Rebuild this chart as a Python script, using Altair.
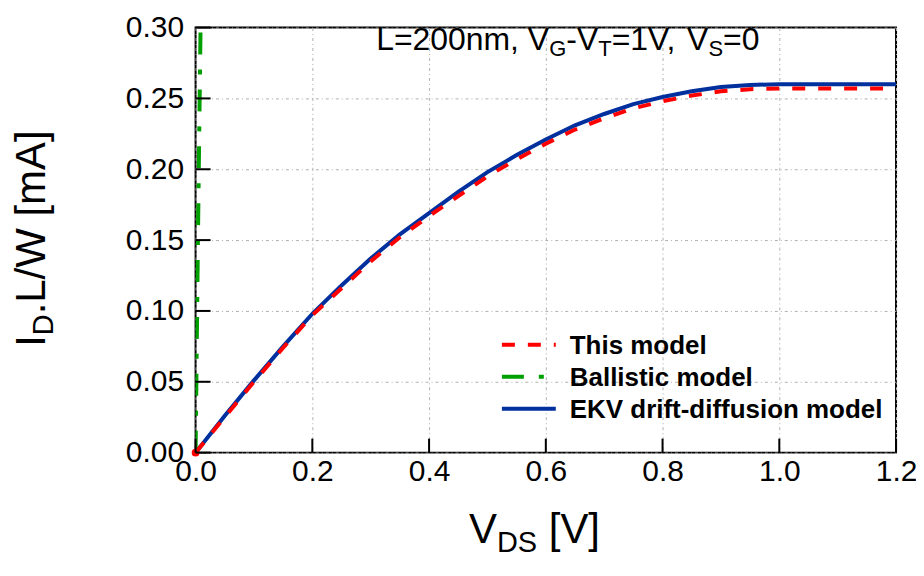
import altair as alt
import pandas as pd

# ---------------- data ----------------
V_DS = [0.0, 0.05, 0.1, 0.15, 0.2, 0.25, 0.3, 0.35, 0.4, 0.45, 0.5, 0.55, 0.6,
        0.65, 0.7, 0.75, 0.8, 0.85, 0.9, 0.95, 1.0, 1.05, 1.1, 1.15, 1.2]
I_EKV = [0.0, 0.026, 0.051, 0.075, 0.098, 0.118, 0.137, 0.154, 0.169, 0.184, 0.198, 0.210, 0.221,
         0.231, 0.239, 0.246, 0.251, 0.255, 0.258, 0.2595, 0.260, 0.260, 0.260, 0.260, 0.260]
I_THIS = [0.0, 0.025, 0.050, 0.074, 0.097, 0.116, 0.135, 0.152, 0.167, 0.181, 0.195, 0.207, 0.218,
          0.228, 0.236, 0.243, 0.248, 0.252, 0.255, 0.2565, 0.257, 0.257, 0.257, 0.257, 0.257]
V_BALL = [0.0, 0.004, 0.0085]
I_BALL = [0.0, 0.15, 0.30]

X_TICKS = [0.0, 0.2, 0.4, 0.6, 0.8, 1.0, 1.2]
Y_TICKS = [0.0, 0.05, 0.10, 0.15, 0.20, 0.25, 0.30]
LEGEND_LABELS = ["This model", "Ballistic model", "EKV drift-diffusion model"]

# ---------------- styling ----------------
W, H = 702, 426
FONT = "Liberation Sans"
RED, GREEN, BLUE = "#ff0000", "#00a000", "#002f9e"

xs = alt.Scale(domain=[0, 1.2], nice=False, zero=False)
ys = alt.Scale(domain=[0, 0.3], nice=False, zero=False)
AX_X = alt.Axis(values=X_TICKS, format=".1f", title=None, labelPadding=4, grid=True,
                labelFlush=False, labelOverlap=False)
AX_Y = alt.Axis(values=Y_TICKS, format=".2f", title=None, labelPadding=12, grid=True,
                labelFlush=False, labelOverlap=False)


def X():
    return alt.X("v:Q", scale=xs, axis=AX_X)


def Y():
    return alt.Y("i:Q", scale=ys, axis=AX_Y)


ekv = pd.DataFrame({"v": V_DS, "i": I_EKV})
this = pd.DataFrame({"v": V_DS, "i": I_THIS})
ball = pd.DataFrame({"v": V_BALL, "i": I_BALL})

blue_line = alt.Chart(ekv).mark_line(color=BLUE, strokeWidth=4, clip=True).encode(
    x=X(), y=Y(), order="v:Q")
red_line = alt.Chart(this).mark_line(color=RED, strokeWidth=4, strokeDash=[13, 13], clip=True).encode(
    x=X(), y=Y(), order="v:Q")
red_dot = alt.Chart(this.iloc[:1]).mark_circle(color=RED, size=60, opacity=1).encode(x=X(), y=Y())
green_line = alt.Chart(ball).mark_line(color=GREEN, strokeWidth=4, strokeDash=[22, 15, 5, 15],
                                       clip=True).encode(x=X(), y=Y(), order="v:Q")

# inward ticks
xt = alt.Chart(pd.DataFrame({"v": X_TICKS})).mark_rule(color="black", strokeWidth=2).encode(
    x=X(), y=alt.value(H), y2=alt.value(H - 14))
yt = alt.Chart(pd.DataFrame({"i": Y_TICKS})).mark_rule(color="black", strokeWidth=2).encode(
    y=Y(), x=alt.value(0), x2=alt.value(15))

one = pd.DataFrame({"a": [0]})


def txt(t, x, y, size, angle=0, weight="normal"):
    return alt.Chart(one).mark_text(text=t, font=FONT, fontSize=size, fontWeight=weight,
                                    align="left", baseline="alphabetic", angle=angle,
                                    color="black").encode(x=alt.value(x), y=alt.value(y))


AW = {"L": 556, "=": 584, "0": 556, "1": 556, "2": 556, "n": 556, "m": 833, ",": 278, " ": 278,
      "V": 667, "G": 778, "-": 333, "T": 611, "S": 667, "D": 722, "[": 278, "]": 278, "I": 278,
      ".": 278, "/": 278, "W": 944, "A": 667}


def width(s, size):
    return sum(AW.get(c, 556) for c in s) * size / 1000.0


def rich(pieces, x0, y0, fs, ss, horizontal=True):
    """pieces: list of (text, is_sub); leading spaces become offsets."""
    layers = []
    pos = 0.0
    for t, sub in pieces:
        size = ss if sub else fs
        lead = len(t) - len(t.lstrip(" "))
        pos += width(" " * lead, size)
        t = t.lstrip(" ")
        shift = fs * 0.2 if sub else 0
        if horizontal:
            layers.append(txt(t, x0 + pos, y0 + shift, size))
        else:
            layers.append(txt(t, x0 + shift, y0 - pos, size, angle=270))
        pos += width(t, size)
    return layers


texts = []
# annotation
texts += rich([("L=200nm, V", False), ("G", True), ("-V", False), ("T", True),
               ("=1V, ", False), ("V", False), ("S", True), ("=0", False)], 181, 22, 32, 22)
# x title
texts += rich([("V", False), ("DS", True), (" [V]", False)], 274, 517, 42, 29)
# y title
texts += rich([("I", False), ("D", True), (".L/W [mA]", False)], -151, 320, 42, 29, horizontal=False)

# legend
leg = []
dashes = [[13, 13], [22, 15, 5, 15], None]
colors = [RED, GREEN, BLUE]
ly = [318, 350, 382]
for lab, d, c, y in zip(LEGEND_LABELS, dashes, colors, ly):
    kw = dict(color=c, strokeWidth=4)
    if d:
        kw["strokeDash"] = d
    leg.append(alt.Chart(one).mark_rule(**kw).encode(x=alt.value(307), x2=alt.value(361), y=alt.value(y)))
    leg.append(txt(lab, 375, y + 9, 26, weight="bold"))

chart = alt.layer(blue_line, green_line, red_line, red_dot, xt, yt, *leg, *texts).properties(
    width=W, height=H,
    autosize=alt.AutoSizeParams(type="none"),
    padding={"left": 188, "top": 19, "right": 20, "bottom": 104},
).configure_view(stroke="black", strokeWidth=2).configure_axis(
    labelFont=FONT, labelFontSize=30, labelColor="black", domain=False, ticks=False,
    gridColor="#b0b0b0", gridDash=[3, 3, 1, 3], gridWidth=1,
)

chart.save("out.html", embed_options={"renderer": "svg", "actions": False})
